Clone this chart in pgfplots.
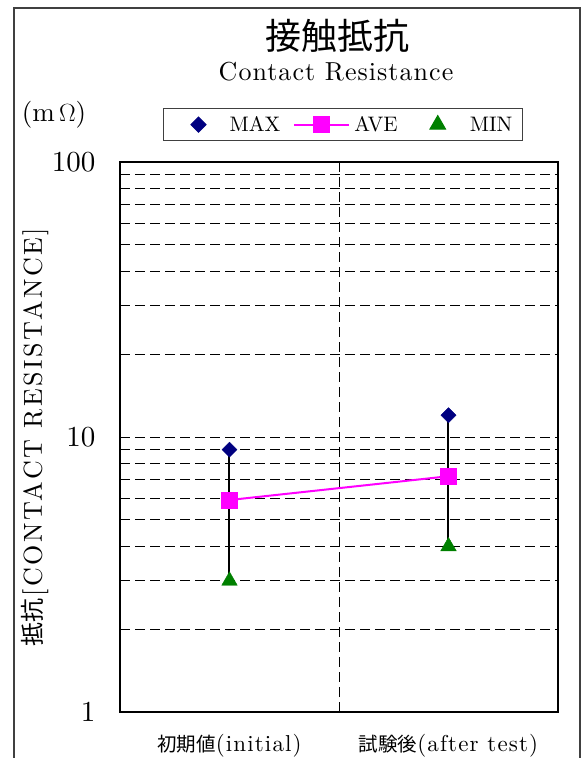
\documentclass[border=0pt]{standalone}
\usepackage{pgfplots}
\pgfplotsset{compat=1.18}
\usepackage{fontspec}
\setmainfont{lmroman10-regular}[Extension=.otf]
\newfontfamily\lmA{lmroman10-regular}[Extension=.otf, LetterSpace=4]
\newfontfamily\lmB{lmroman10-regular}[Extension=.otf, LetterSpace=10]
\newfontfamily\lmC{lmroman10-regular}[Extension=.otf, LetterSpace=5]
\newfontfamily\cjk{Noto Sans CJK JP}
\definecolor{navyc}{RGB}{0,0,128}
\definecolor{magc}{RGB}{255,0,255}
\definecolor{greenc}{RGB}{0,128,0}
\begin{document}
\begin{tikzpicture}[x=1pt,y=1pt]
\path[use as bounding box] (0,0) rectangle (588,758);
\draw[line width=1.3pt, black!75] (14,-5) -- (14,750) -- (580,750) -- (580,-5);
\node at (337,722) {\cjk\fontsize{36}{42}\selectfont 接触抵抗};
\node at (336,686) {\lmA\fontsize{26}{30}\selectfont Contact Resistance};
\node at (54,643) {\fontsize{27}{30}\selectfont (m$\,\Omega$)};
\node[rotate=90] at (35,321) {{\cjk\fontsize{24}{30}\selectfont 抵抗}\,{\lmB\fontsize{26}{30}\selectfont [CONTACT RESISTANCE]}};
\begin{axis}[
  at={(120pt,46pt)}, anchor=south west,
  scale only axis, width=438pt, height=550pt,
  ymode=log, ymin=1, ymax=100,
  xmin=0, xmax=4,
  xtick={1,3},
  xticklabels={{\cjk\fontsize{19.5}{24}\selectfont 初期値}{\lmC(initial)}, {\cjk\fontsize{19.5}{24}\selectfont 試験後}{\lmC(after test)}},
  x tick label style={font=\fontsize{23}{26}\selectfont, yshift=-19pt},
  major x tick style={draw=none},
  ytick={1,10,100}, yticklabels={1,10,100},
  y tick label style={font=\fontsize{29}{32}\selectfont, xshift=-21pt},
  ytick pos=left, tick align=inside,
  major tick length=8pt, minor tick length=6pt,
  ymajorgrids, yminorgrids,
  grid style={black, line width=0.9pt, dash pattern=on 10pt off 5pt},
  minor grid style={black, line width=0.9pt, dash pattern=on 10pt off 5pt},
  major grid style={black, line width=0.9pt, dash pattern=on 10pt off 5pt},
  extra x ticks={2}, extra x tick labels={},
  extra x tick style={grid=major, major tick length=0pt},
  axis line style={line width=1.5pt},
  tick style={line width=1pt, black},
  legend columns=3,
  legend style={at={(0.509,1.068)}, anchor=center, draw=black!75, line width=1pt,
    font=\fontsize{21}{25}\selectfont, inner xsep=8.5pt, inner ysep=6pt,
    nodes={inner sep=2pt},
    /tikz/every odd column/.append style={column sep=0pt},
    /tikz/every even column/.append style={column sep=11pt}},
  clip=false,
]
\addplot[black, line width=2pt, forget plot] coordinates {(1,3) (1,9)};
\addplot[black, line width=2pt, forget plot] coordinates {(3,4) (3,12)};
\addplot[only marks, mark=square*, mark size=5.3pt, mark options={rotate=45, fill=navyc, draw=navyc},
  legend image code/.code={\path[draw=none, fill=none] (0pt,0pt) -- (56pt,0pt);
    \draw[navyc, fill=navyc] plot[only marks, mark=square*, mark size=5.3pt, mark options={rotate=45}] coordinates {(27pt,0pt)};}] coordinates {(1,9) (3,12)};
\addlegendentry{MAX}
\addplot[magc, line width=2pt, mark=square*, mark size=7.5pt, mark options={fill=magc, draw=magc},
  legend image code/.code={\path[draw=none, fill=none] (0pt,0pt) -- (58pt,0pt);
    \draw[magc, line width=2pt, mark=square*, mark size=7.5pt, mark repeat=2, mark phase=2] plot coordinates {(0pt,0pt) (27.5pt,0pt) (55pt,0pt)};}] coordinates {(1,5.9) (3,7.2)};
\addlegendentry{AVE}
\addplot[only marks, mark=triangle*, mark size=9pt, mark options={fill=greenc, draw=greenc},
  legend image code/.code={\path[draw=none, fill=none] (0pt,0pt) -- (57pt,0pt);
    \draw[greenc, fill=greenc] plot[only marks, mark=triangle*, mark size=9pt] coordinates {(27pt,0pt)};}] coordinates {(1,3) (3,4)};
\addlegendentry{MIN}
\end{axis}
\end{tikzpicture}
\end{document}
